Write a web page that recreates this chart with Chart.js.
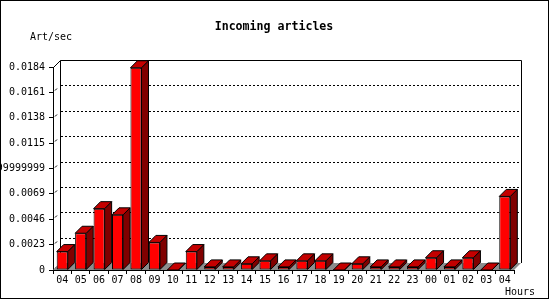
<!DOCTYPE html>
<html>
<head>
<meta charset="utf-8">
<script src="https://cdn.jsdelivr.net/npm/chart.js@4/dist/chart.umd.min.js"></script>
<style>
  html,body{margin:0;padding:0;background:#fff}
  canvas{display:block}
</style>
</head>
<body>
<canvas id="chart" width="550" height="300"></canvas>
<script>
const hours = ['04','05','06','07','08','09','10','11','12','13','14','15','16','17','18','19','20','21','22','23','00','01','02','03','04']
const articlesPerSec = [0.00167,0.00333,0.00556,0.005,0.01833,0.0025,0,0.00167,0.00028,0.00028,0.00056,0.00083,0.00028,0.00083,0.00083,0,0.00056,0.00028,0.00028,0.00028,0.00111,0.00028,0.00111,0,0.00667]
const yTickValues = [0,0.0023,0.0046,0.0069,0.0092,0.0115,0.0138,0.0161,0.0184]
const yTickLabels = ['0','0.0023','0.0046','0.0069','0.0091999999999999','0.0115','0.0138','0.0161','0.0184']

const DEPTH = 7
const MONO = '"DejaVu Sans Mono", monospace'

// back wall, dotted grid, floor (drawn before the bars)
const wallPlugin = {
  id:'wall',
  beforeDatasetsDraw(chart){
    const {ctx, chartArea:a, scales:{y}} = chart
    ctx.save()
    ctx.lineWidth = 1
    ctx.strokeStyle = '#000'

    // dotted grid on the back wall
    ctx.setLineDash([2,2])
    yTickValues.forEach(v=>{
      if(v===0 || v===yTickValues[yTickValues.length-1]) return
      const py = Math.round(y.getPixelForValue(v)) - DEPTH + 0.5
      ctx.beginPath()
      ctx.moveTo(a.left + DEPTH + 1, py)
      ctx.lineTo(a.right + DEPTH, py)
      ctx.stroke()
    })
    ctx.setLineDash([])

    // wall outline
    const L = Math.round(a.left) + DEPTH + 0.5
    const R = Math.round(a.right) + DEPTH + 0.5
    const T = Math.round(a.top) - DEPTH + 0.5
    const B = Math.round(a.bottom) - DEPTH
    ctx.beginPath()
    ctx.moveTo(L, B)
    ctx.lineTo(L, T)
    ctx.lineTo(R, T)
    ctx.lineTo(R, B)
    ctx.stroke()

    // slanted tick marks joining axis to wall
    yTickValues.forEach((v,i)=>{
      const py = Math.round(y.getPixelForValue(v)) + 0.5
      ctx.beginPath()
      if(i===yTickValues.length-1){
        ctx.moveTo(a.left + 0.5, py)
        ctx.lineTo(L, T)
      }else{
        ctx.moveTo(a.left + 2, py - 2)
        ctx.lineTo(a.left + 4, py - 4)
      }
      ctx.stroke()
    })

    // floor
    ctx.fillStyle = '#8c8c8c'
    ctx.beginPath()
    ctx.moveTo(a.left, a.bottom)
    ctx.lineTo(a.right, a.bottom)
    ctx.lineTo(a.right + DEPTH, a.bottom - DEPTH)
    ctx.lineTo(a.left + DEPTH, a.bottom - DEPTH)
    ctx.closePath()
    ctx.fill()
    ctx.restore()
  }
}

// top and side faces for each bar
const boxPlugin = {
  id:'box',
  afterDatasetsDraw(chart){
    const {ctx} = chart
    const bars = chart.getDatasetMeta(0).data
    ctx.save()
    ctx.lineWidth = 1
    ctx.strokeStyle = '#000'
    ctx.lineJoin = 'miter'
    bars.forEach(bar=>{
      const xl = bar.x - bar.width/2
      const xr = bar.x + bar.width/2
      const top = bar.y
      const base = bar.base

      ctx.fillStyle = '#800000'
      ctx.beginPath()
      ctx.moveTo(xr, top)
      ctx.lineTo(xr + DEPTH, top - DEPTH)
      ctx.lineTo(xr + DEPTH, base - DEPTH)
      ctx.lineTo(xr, base)
      ctx.closePath()
      ctx.fill()
      ctx.stroke()

      ctx.fillStyle = '#c40000'
      ctx.beginPath()
      ctx.moveTo(xl, top)
      ctx.lineTo(xl + DEPTH, top - DEPTH)
      ctx.lineTo(xr + DEPTH, top - DEPTH)
      ctx.lineTo(xr, top)
      ctx.closePath()
      ctx.fill()
      ctx.stroke()
    })
    ctx.restore()
  }
}

// titles and outer frame
const textPlugin = {
  id:'texts',
  afterDraw(chart){
    const {ctx} = chart
    ctx.save()
    ctx.fillStyle = '#000'
    ctx.textBaseline = 'middle'
    ctx.font = 'bold 11.6px ' + MONO
    ctx.textAlign = 'center'
    ctx.fillText('Incoming articles', 274, 27)
    ctx.font = '10px ' + MONO
    ctx.textAlign = 'left'
    ctx.fillText('Art/sec', 30, 37)
    ctx.fillText('Hours', 505, 292)
    ctx.strokeStyle = '#000'
    ctx.lineWidth = 1
    ctx.strokeRect(0.5, 0.5, 548, 298)
    ctx.restore()
  }
}

new Chart(document.getElementById('chart'),{
  type:'bar',
  data:{
    labels:hours,
    datasets:[{
      label:'Art/sec',
      data:articlesPerSec,
      backgroundColor:'#ff0000',
      borderColor:'#000',
      borderWidth:1,
      borderSkipped:false,
      barPercentage:0.6,
      categoryPercentage:1
    }]
  },
  options:{
    responsive:false,
    animation:false,
    events:[],
    layout:{padding:{top:67,right:36,left:0,bottom:0}},
    plugins:{
      legend:{display:false},
      title:{display:false},
      tooltip:{enabled:false}
    },
    scales:{
      x:{
        grid:{drawOnChartArea:false,tickLength:4,color:'#000',offset:true},
        border:{display:true,color:'#000'},
        ticks:{
          color:'#000',
          font:{family:MONO,size:10},
          padding:0,
          maxRotation:0,
          autoSkip:false
        },
        afterFit(scale){ scale.height = 30 }
      },
      y:{
        min:0,
        max:0.0184,
        grid:{drawOnChartArea:false,tickLength:4,color:'#000'},
        border:{display:true,color:'#000'},
        afterBuildTicks(scale){
          scale.ticks = yTickValues.map(v=>({value:v}))
        },
        ticks:{
          color:'#000',
          font:{family:MONO,size:10},
          padding:4,
          callback:(v,i)=>yTickLabels[i]
        },
        afterFit(scale){ scale.width = 53 }
      }
    }
  },
  plugins:[wallPlugin,boxPlugin,textPlugin]
})
</script>
</body>
</html>
